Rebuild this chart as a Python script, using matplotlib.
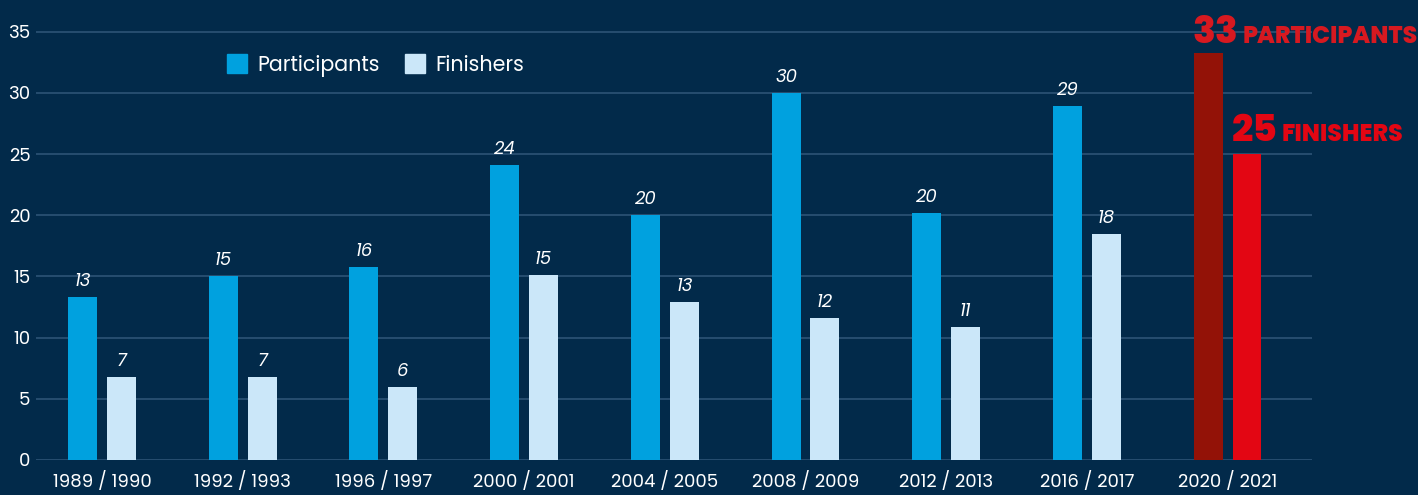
import numpy as np
import matplotlib.pyplot as plt
from matplotlib.patches import Patch

seasons = ['1989 / 1990', '1992 / 1993', '1996 / 1997', '2000 / 2001', '2004 / 2005',
           '2008 / 2009', '2012 / 2013', '2016 / 2017', '2020 / 2021']
participants = [13.3, 15.05, 15.8, 24.1, 20.0, 30.0, 20.2, 28.95, 33.3]
finishers = [6.75, 6.75, 5.95, 15.1, 12.9, 11.6, 10.9, 18.45, 25.0]
participant_labels = ['13', '15', '16', '24', '20', '30', '20', '29', '33']
finisher_labels = ['7', '7', '6', '15', '13', '12', '11', '18', '25']

BG = '#022a4a'
BLUE = '#00a1df'
LIGHT = '#cbe7f9'
DARKRED = '#931207'
RED = '#e30613'
GRID = '#2d5476'

plt.rcParams['font.family'] = ['Poppins', 'Lato', 'DejaVu Sans']

fig = plt.figure(figsize=(14.18, 4.95), dpi=100, facecolor=BG)
ax = fig.add_axes([36 / 1418, 35 / 495, 1276 / 1418, 460 / 495])
ax.set_facecolor(BG)

x = np.arange(len(seasons))
w = 0.206
off = 0.138
n = len(seasons) - 1

pc = [BLUE] * n + [DARKRED]
fc = [LIGHT] * n + [RED]
ax.bar(x - off, participants, w, color=pc, zorder=3)
ax.bar(x + off, finishers, w, color=fc, zorder=3)

# value labels (all but the highlighted last season)
for i in range(n):
    ax.text(x[i] - off, participants[i] + 0.5, participant_labels[i], ha='center', va='bottom',
            color='white', fontsize=13, style='italic')
    ax.text(x[i] + off, finishers[i] + 0.5, finisher_labels[i], ha='center', va='bottom',
            color='white', fontsize=13, style='italic')

# highlighted last season
ax.text(x[-1] - off - w / 2 - 0.005, 34.1, participant_labels[-1], color='#d71920', fontsize=27,
        fontweight='heavy', ha='left', va='baseline', clip_on=False)
ax.text(x[-1] + 0.105, 34.1, 'PARTICIPANTS', color='#d71920', fontsize=17,
        fontweight='heavy', ha='left', va='baseline', clip_on=False)
ax.text(x[-1] + off - w / 2 - 0.005, 26.1, finisher_labels[-1], color=RED,
        fontsize=27, fontweight='heavy', ha='left', va='baseline', clip_on=False)
ax.text(x[-1] + 0.385, 26.1, 'FINISHERS', color=RED, fontsize=17,
        fontweight='heavy', ha='left', va='baseline', clip_on=False)

ax.set_xlim(-0.469, 8.6)
ax.set_ylim(0, 37.6)
ax.set_yticks(range(0, 36, 5))
ax.set_xticks(x)
ax.set_xticklabels(seasons)
ax.tick_params(axis='both', colors='white', length=0, labelsize=13)
ax.tick_params(axis='y', pad=4)
ax.tick_params(axis='x', pad=9)
ax.grid(axis='y', color=GRID, linewidth=1.2, zorder=0)
for s in ax.spines.values():
    s.set_visible(False)

handles = [Patch(color=BLUE, label='Participants'), Patch(color=LIGHT, label='Finishers')]
ax.legend(handles=handles, loc='upper left', bbox_to_anchor=(0.135, 0.922), ncol=2,
          frameon=False, fontsize=14.8, labelcolor='white', handlelength=1.0,
          handleheight=1.0, handletextpad=0.5, columnspacing=1.2)

fig.savefig('out.png', dpi=100, facecolor=BG)
